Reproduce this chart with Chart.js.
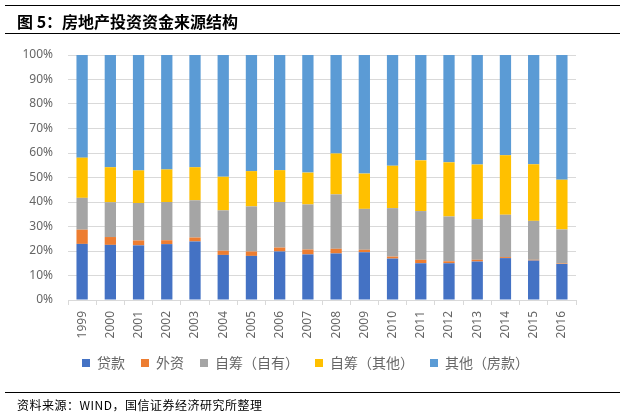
<!DOCTYPE html>
<html>
<head>
<meta charset="utf-8">
<script src="https://cdn.jsdelivr.net/npm/chart.js@4.4.1/dist/chart.umd.min.js"></script>
<style>
  body { margin: 0; background: #fff; }
  #wrap { position: relative; width: 627px; height: 414px; overflow: hidden; }
  #chartCanvas { position: absolute; left: 0; top: 0; }
  .rule { position: absolute; left: 5px; width: 615px; height: 0; border-top: 1.5px solid #000; }
  #title { position: absolute; left: 17px; top: 11px; font: bold 16px "Noto Sans CJK SC", sans-serif; line-height: 20px; color: #000; white-space: nowrap; }
  #source { position: absolute; left: 17px; top: 397px; font: 12px "Noto Sans CJK SC", sans-serif; line-height: 16px; letter-spacing: 0.5px; color: #000; white-space: nowrap; }
</style>
</head>
<body>
<div id="wrap">
  <canvas id="chartCanvas" width="627" height="414"></canvas>
  <div class="rule" style="top:5px"></div>
  <div id="title">图 5：房地产投资资金来源结构</div>
  <div class="rule" style="top:33px"></div>
  <div class="rule" style="top:392px"></div>
  <div id="source">资料来源：WIND，国信证券经济研究所整理</div>
</div>
<script>
const years = ["1999", "2000", "2001", "2002", "2003", "2004", "2005", "2006", "2007",
               "2008", "2009", "2010", "2011", "2012", "2013", "2014", "2015", "2016"];

// shares in percent
const loans        = [22.9, 22.5, 22.3, 22.8, 23.9, 18.4, 18.0, 19.8, 18.6, 19.0, 19.5, 16.9, 15.0, 15.0, 15.7, 17.1, 16.1, 14.7];
const foreign      = [5.8, 3.2, 2.0, 1.6, 1.6, 1.7, 1.8, 1.6, 2.0, 1.9, 1.0, 0.8, 1.4, 0.8, 0.7, 0.4, 0.3, 0.2];
const selfOwned    = [13.0, 14.2, 15.3, 15.6, 15.2, 16.5, 18.4, 18.6, 18.4, 22.2, 16.7, 19.8, 19.9, 18.3, 16.6, 17.3, 15.9, 13.9];
const selfOther    = [16.4, 14.3, 13.3, 13.3, 13.5, 13.7, 14.4, 13.0, 13.0, 16.7, 14.4, 17.3, 20.7, 22.1, 22.3, 24.3, 23.1, 20.3];
const otherDeposit = [41.9, 45.8, 47.1, 46.7, 45.8, 49.7, 47.4, 47.0, 48.0, 40.2, 48.4, 45.2, 43.0, 43.8, 44.7, 40.9, 44.6, 50.9];

const seriesNames = ["贷款", "外资", "自筹（自有）", "自筹（其他）", "其他（房款）"];
const seriesColors = ["#4472C4", "#ED7D31", "#A5A5A5", "#FFC000", "#5B9BD5"];
const seriesData = [loans, foreign, selfOwned, selfOther, otherDeposit];

const textColor = "#666666";
const gridColor = "#d9d9d9";

const ctx = document.getElementById("chartCanvas").getContext("2d");
new Chart(ctx, {
    type: "bar",
    data: {
        labels: years,
        datasets: seriesData.map((values, i) => ({
            label: seriesNames[i],
            data: values,
            backgroundColor: seriesColors[i],
            borderWidth: 0,
            barPercentage: 0.4,
            categoryPercentage: 1.0
        }))
    },
    options: {
        responsive: false,
        animation: false,
        layout: { padding: { top: 55, left: 0, right: 16, bottom: 34 } },
        plugins: {
            tooltip: { enabled: false },
            legend: {
                position: "bottom",
                labels: {
                    boxWidth: 8,
                    boxHeight: 8,
                    padding: 16,
                    color: textColor,
                    font: { family: "'Noto Sans CJK SC', sans-serif", size: 14 }
                }
            }
        },
        scales: {
            x: {
                stacked: true,
                grid: { drawOnChartArea: false, drawTicks: true, tickLength: 5, color: gridColor },
                border: { color: gridColor },
                ticks: {
                    autoSkip: false,
                    minRotation: 90,
                    maxRotation: 90,
                    padding: 6,
                    color: textColor,
                    font: { family: "'Noto Sans', sans-serif", size: 12 }
                },
                afterFit: function (scale) { scale.height = 40; }
            },
            y: {
                stacked: true,
                min: 0,
                max: 100,
                grid: { color: gridColor, drawTicks: false },
                border: { display: false },
                ticks: {
                    stepSize: 10,
                    padding: 15,
                    color: textColor,
                    font: { family: "'Noto Sans', sans-serif", size: 12 },
                    callback: function (v) { return v + "%"; }
                },
                afterFit: function (scale) { scale.width = 68; }
            },
            yRight: {
                position: "right",
                display: true,
                grid: { display: false },
                border: { display: false },
                ticks: { display: false },
                afterFit: function (scale) { scale.width = 35; }
            }
        }
    }
});
</script>
</body>
</html>
